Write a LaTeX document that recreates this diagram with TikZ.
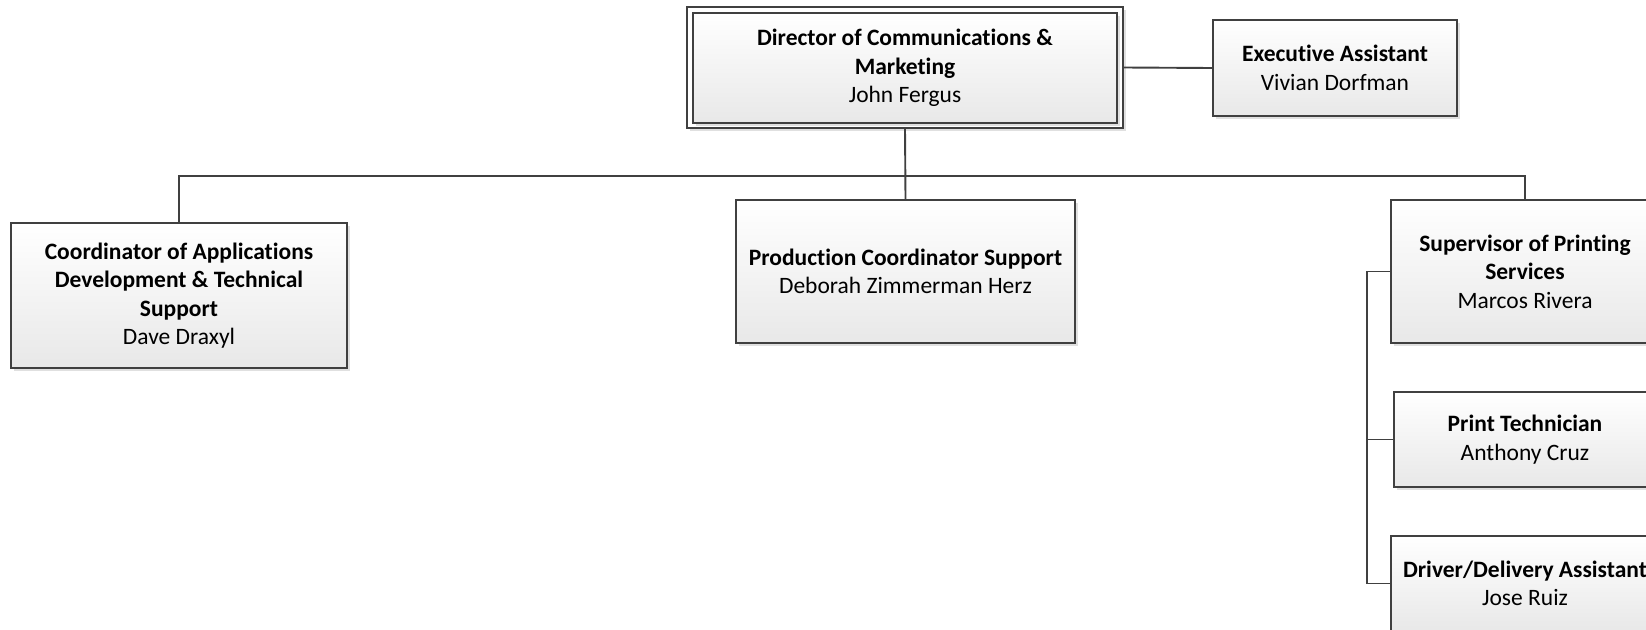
\documentclass[tikz,border=0pt]{standalone}
\usepackage{fontspec}
\setmainfont{Carlito}[Ligatures={NoCommon}]
\usetikzlibrary{shadows,positioning}
\definecolor{edge}{HTML}{404040}
\tikzset{
  card/.style={draw=edge, line width=1.6pt, top color=white, bottom color=black!9,
    align=center, inner sep=0pt, font=\fontsize{23.5}{28.5}\selectfont,
    drop shadow={shadow xshift=3pt, shadow yshift=-3pt, fill=black, opacity=0.12}},
  conn/.style={draw=edge, line width=1.9pt}
}
\begin{document}
\begin{tikzpicture}[x=1pt,y=1pt]
\useasboundingbox (0,0) rectangle (1646,-629);
\clip (0,0) rectangle (1646,-629);
% director: outer frame and inner card
\node[draw=edge, line width=1.6pt, fill=white, minimum width=436pt, minimum height=121pt,
  drop shadow={shadow xshift=3pt, shadow yshift=-3pt, fill=black, opacity=0.12}]
  (dir) at (905,-67.5) {};
\node[card, drop shadow={opacity=0}, minimum width=424pt, minimum height=110pt] (dirin) at (905,-68)
  {\textbf{Director of Communications \&}\\\textbf{Marketing}\\John Fergus};
\node[card, minimum width=244pt, minimum height=96pt] (exec) at (1335,-68)
  {\textbf{Executive Assistant}\\Vivian Dorfman};
\node[card, minimum width=336pt, minimum height=145pt] (coord) at (179,-295.5)
  {\textbf{Coordinator of Applications}\\\textbf{Development \& Technical}\\\textbf{Support}\\Dave Draxyl};
\node[card, minimum width=339pt, minimum height=143pt] (prod) at (905.5,-271.5)
  {\textbf{Production Coordinator Support}\\Deborah Zimmerman Herz};
\node[card, minimum width=268pt, minimum height=143pt] (sup) at (1525,-271.5)
  {\textbf{Supervisor of Printing}\\\textbf{Services}\\Marcos Rivera};
\node[card, minimum width=262pt, minimum height=95pt] (tech) at (1525,-439.5)
  {\textbf{Print Technician}\\Anthony Cruz};
\node[card, minimum width=268pt, minimum height=95pt] (drv) at (1525,-583.5)
  {\textbf{Driver/Delivery Assistant}\\Jose Ruiz};
\coordinate (bus) at (0,-176);
\coordinate (rail) at (1367,0);
% connectors
\draw[conn] (dir.east) -- (exec.west);
\draw[conn] (dir.south) -- (prod.north);
\draw[conn] (coord.north) |- (prod.north |- bus) -| (sup.north);
\draw[conn] (sup.west) -- (sup.west -| rail) |- (drv.west);
\draw[conn] (tech.west) -- (tech.west -| rail);
\end{tikzpicture}
\end{document}
